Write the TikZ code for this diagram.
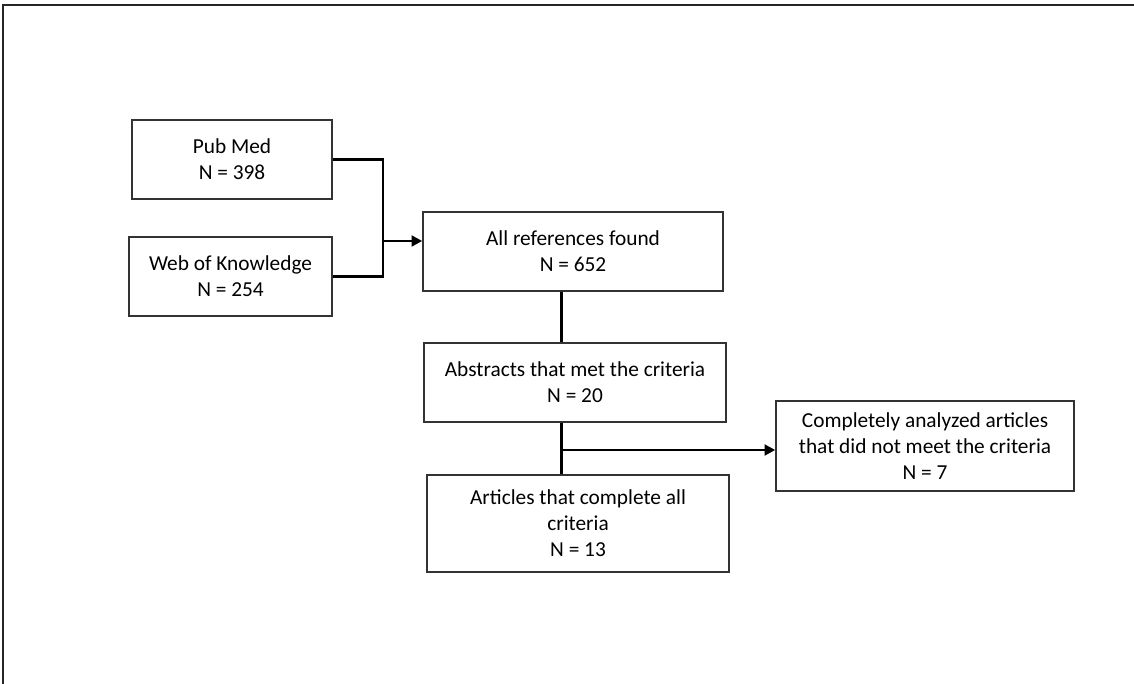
\documentclass[tikz,border=0pt]{standalone}
\usepackage{fontspec}
\setmainfont{Carlito}
\usetikzlibrary{arrows.meta, calc}

\begin{document}
\begin{tikzpicture}[x=0.75pt, y=-0.75pt,
    boxstyle/.style={draw=black!80, line width=1.1pt, align=center, inner sep=0pt,
      font=\fontsize{16}{19.5}\selectfont},
    linkstyle/.style={line width=2.2pt, black},
    arrowstyle/.style={linkstyle, -{Triangle[length=8pt, width=8pt]}},
    framestyle/.style={line width=1.1pt, black!85}]
  \useasboundingbox (0,0) rectangle (1134,684);
  \draw[framestyle] (1134,5) -- (3,5) -- (3,684);
  % sources
  \node[boxstyle, minimum width=150pt, minimum height=59pt] (pubmed) at (232,159.5) {Pub Med\\N = 398};
  \node[boxstyle, minimum width=152pt, minimum height=59pt] (wok) at (230.5,276.5) {Web of Knowledge\\N = 254};
  % flow
  \node[boxstyle, minimum width=225pt, minimum height=59pt] (allrefs) at (573,251.5) {All references found\\N = 652};
  \node[boxstyle, minimum width=226.5pt, minimum height=59pt] (abstracts) at (575,382.5) {Abstracts that met the criteria\\N = 20};
  \node[boxstyle, minimum width=226.5pt, minimum height=73pt] (articles) at (578,523.5) {Articles that complete all\\criteria\\N = 13};
  \node[boxstyle, minimum width=223.5pt, minimum height=67.5pt] (excluded) at (925,446) {Completely analyzed articles\\that did not meet the criteria\\N = 7};
  \coordinate (merge) at (383,241);
  \coordinate (spine) at (561.5,450);
  \draw[linkstyle] (pubmed.east) -| (merge) |- (wok.east);
  \draw[arrowstyle] (merge) -- (merge -| allrefs.west);
  \draw[linkstyle] (allrefs.south -| spine) -- (abstracts.north -| spine);
  \draw[linkstyle] (abstracts.south -| spine) -- (articles.north -| spine);
  \draw[arrowstyle] (spine) -- (spine -| excluded.west);
\end{tikzpicture}
\end{document}
